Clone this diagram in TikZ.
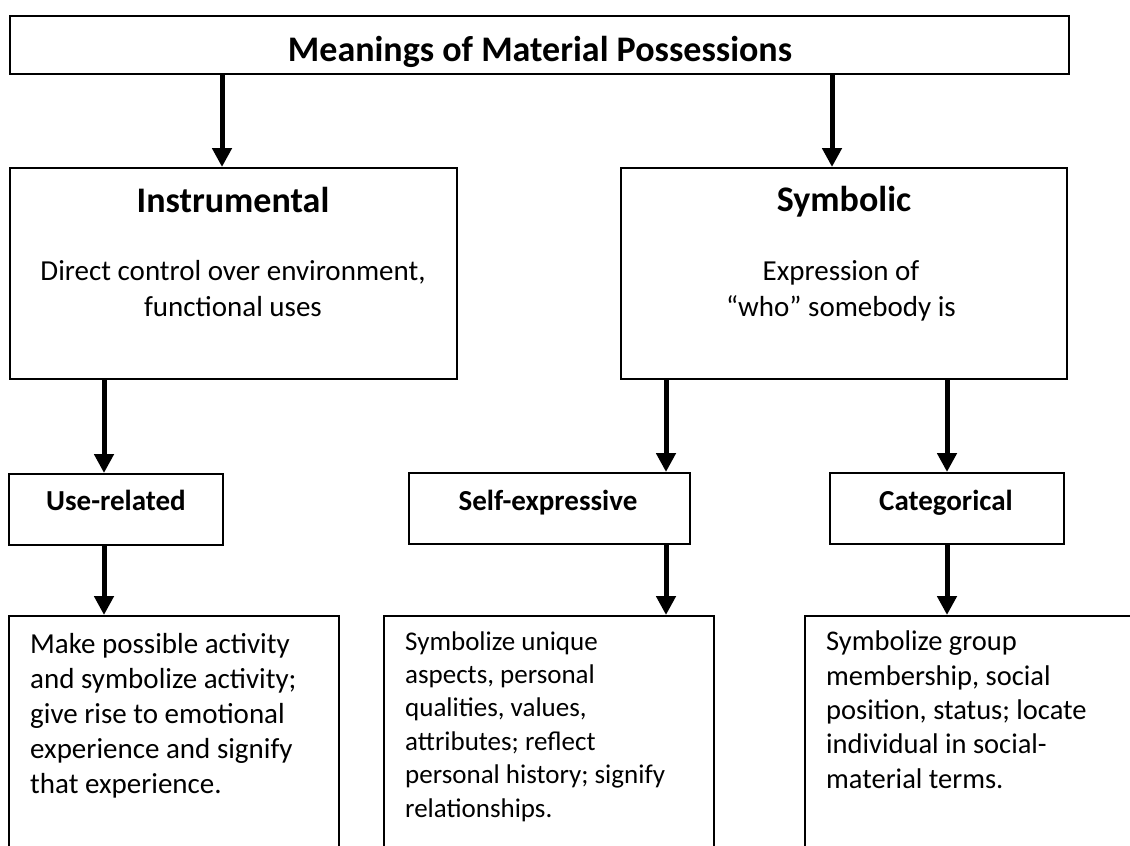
\documentclass[tikz,border=0pt]{standalone}
\usepackage{fontspec}
\setmainfont{Carlito}
\usetikzlibrary{arrows.meta}
\begin{document}
\begin{tikzpicture}[x=1pt,y=-1pt,
  box/.style={draw=black, line width=1.8pt, fill=white, rectangle, inner sep=0pt, anchor=north west},
  arr/.style={line width=5pt, -{Triangle[width=19pt,length=19pt]}},
  headfont/.style={font=\bfseries\fontsize{36}{40}\selectfont},
  bodyfont/.style={font=\fontsize{29}{36}\selectfont},
  leaffont/.style={font=\bfseries\fontsize{29}{34}\selectfont},
  descr/.style={anchor=base west, align=left, inner sep=0pt}]
\useasboundingbox[fill=white] (0,0) rectangle (1130,846);

% boxes
\node[box, minimum width=1059pt, minimum height=58pt] (top) at (9,15) {};
\node[box, minimum width=447pt, minimum height=211pt] (ins) at (9,167) {};
\node[box, minimum width=446pt, minimum height=211pt] (sym) at (620,167) {};
\node[box, minimum width=214pt, minimum height=71pt] (use) at (8,473) {};
\node[box, minimum width=281pt, minimum height=71pt] (self) at (408,472) {};
\node[box, minimum width=234pt, minimum height=71pt] (cat) at (829,472) {};
\node[box, minimum width=330pt, minimum height=250pt] (d1) at (8,615) {};
\node[box, minimum width=330pt, minimum height=250pt] (d2) at (383,615) {};
\node[box, minimum width=340pt, minimum height=250pt] (d3) at (804,615) {};

% headings and descriptions
\node[headfont, anchor=base] (topt) at (540,61) {Meanings of Material Possessions};
\node[headfont, anchor=base] (inst) at (233,212) {Instrumental};
\node[bodyfont, anchor=base, align=center] (insd) at (233,316) {Direct control over environment,\\functional uses};
\node[headfont, anchor=base] (symt) at (844,211) {Symbolic};
\node[bodyfont, anchor=base, align=center] (symd) at (841,316) {Expression of\\“who” somebody is};
\node[leaffont, anchor=base] (uset) at (116,510) {Use-related};
\node[leaffont, anchor=base] (selft) at (548,510) {Self-expressive};
\node[leaffont, anchor=base] (catt) at (946,510) {Categorical};

\node[descr, font=\fontsize{29}{35}\selectfont] (d1t) at (30,793) {Make possible activity\\and symbolize activity;\\give rise to emotional\\experience and signify\\that experience.};
\node[descr, font=\fontsize{27}{33.4}\selectfont] (d2t) at (405,817) {Symbolize unique\\aspects, personal\\qualities, values,\\attributes; reflect\\personal history; signify\\relationships.};
\node[descr, font=\fontsize{28.5}{34.3}\selectfont] (d3t) at (826,788) {Symbolize group\\membership, social\\position, status; locate\\individual in social-\\material terms.};

% connector columns
\coordinate (ca) at (222,0);
\coordinate (cb) at (832,0);
\coordinate (cc) at (104,0);
\coordinate (cd) at (666,0);
\coordinate (ce) at (947,0);

\draw[arr] (top.south -| ca) -- (ins.north -| ca);
\draw[arr] (top.south -| cb) -- (sym.north -| cb);
\draw[arr] (ins.south -| cc) -- (use.north -| cc);
\draw[arr] (sym.south -| cd) -- (self.north -| cd);
\draw[arr] (sym.south -| ce) -- (cat.north -| ce);
\draw[arr] (use.south -| cc) -- (d1.north -| cc);
\draw[arr] (self.south -| cd) -- (d2.north -| cd);
\draw[arr] (cat.south -| ce) -- (d3.north -| ce);
\end{tikzpicture}
\end{document}
